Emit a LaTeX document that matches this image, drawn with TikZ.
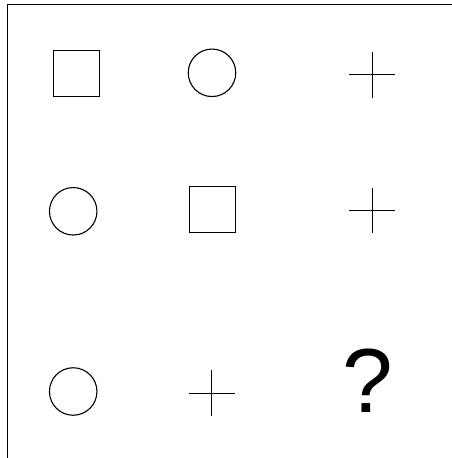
\documentclass[tikz,border=0pt]{standalone}
\usepackage{fontspec}
\setmainfont{Liberation Sans}
\begin{document}
\begin{tikzpicture}[x=1pt,y=-1pt,
  shapeline/.style={draw=black,line width=1.1pt},
  sq/.style={shapeline,rectangle,minimum width=46pt,minimum height=46pt,inner sep=0pt},
  circ/.style={shapeline,circle,minimum size=47.5pt,inner sep=0pt},
  crossline/.style={draw=black,line width=1pt}]
\useasboundingbox (0,0) rectangle (452,458);
\fill[white] (0,0) rectangle (452,458);
% frame
\coordinate (tl) at (7.7,4.7);
\coordinate (tr) at (452,4.7);
\coordinate (bl) at (7.7,458);
\draw[line width=1.2pt] (tr) -- (tl) -- (bl);
% row 1
\node[sq] (s1) at (76.3,73.5) {};
\node[circ] (c1) at (212,72.8) {};
\coordinate (p1) at (372,74.7);
\draw[crossline] ([xshift=-23pt]p1) -- ([xshift=23pt]p1);
\draw[crossline] ([yshift=-23pt]p1) -- ([yshift=23pt]p1);
% row 2
\node[circ] (c2) at (73.2,211.3) {};
\node[sq] (s2) at (212.7,209.3) {};
\coordinate (p2) at (372,210.7);
\draw[crossline] ([xshift=-23pt]p2) -- ([xshift=23pt]p2);
\draw[crossline] ([yshift=-22.5pt]p2) -- ([yshift=22.5pt]p2);
% row 3
\node[circ] (c3) at (73.2,391.5) {};
\coordinate (p3) at (211.7,393.3);
\draw[crossline] ([xshift=-23pt]p3) -- ([xshift=23pt]p3);
\draw[crossline] ([yshift=-22.5pt]p3) -- ([yshift=23pt]p3);
\node[anchor=base,inner sep=0pt,font=\fontsize{91}{91}\selectfont] (q) at (367.5,412.3) {?};
\end{tikzpicture}
\end{document}
